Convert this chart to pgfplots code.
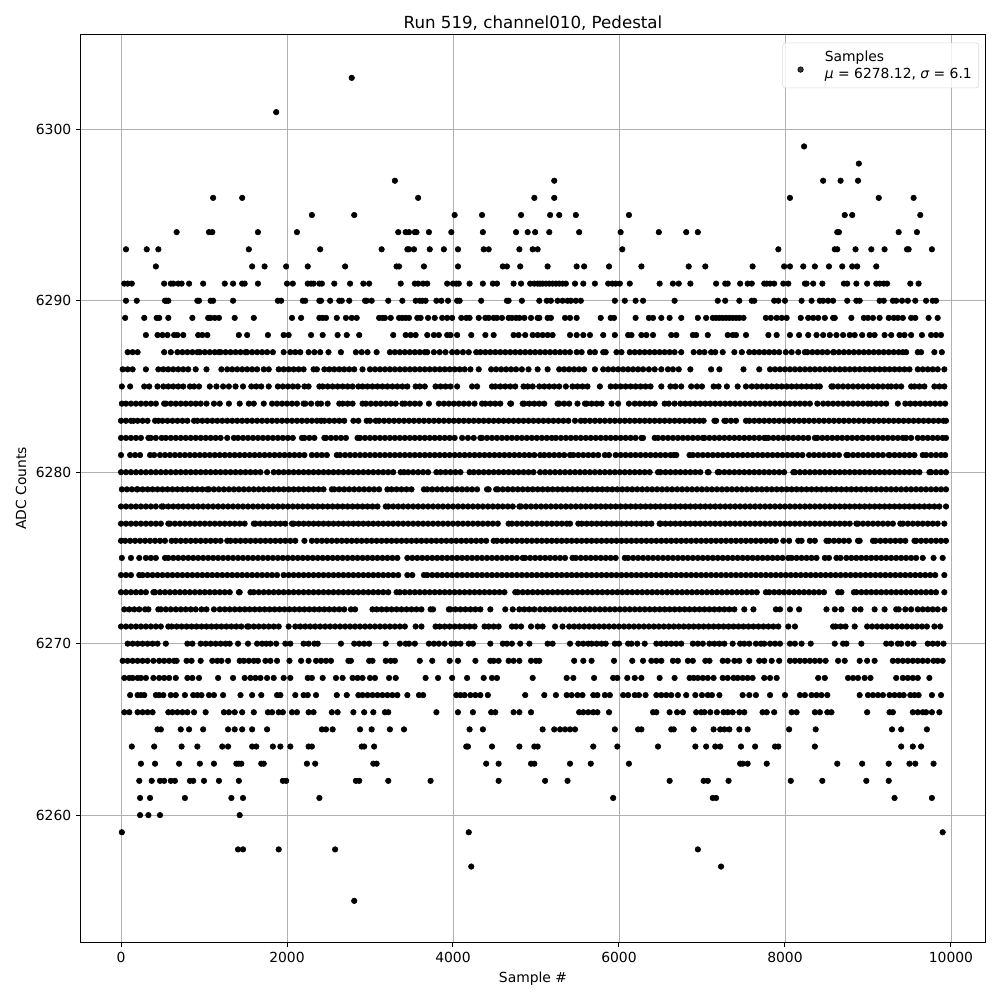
\documentclass[border=0pt]{standalone}
\usepackage{fontspec}
\setmainfont{DejaVu Sans}
\usepackage{pgfplots}
\pgfplotsset{compat=1.18}
\def\lev#1{\addplot[only marks,mark=*,mark size=2pt,mark options={draw=none,fill=black},forget plot] table[row sep=\\,x expr=\thisrowno{0}*10,y expr=#1]}
\begin{document}
\begin{tikzpicture}[x=1pt,y=1pt]
\useasboundingbox (-58.32,-41.76) rectangle (661.68,678.24);
\begin{axis}[at={(0,0)},anchor=south west,scale only axis,width=650.88pt,height=653.04pt,
 xmin=-482,xmax=10410,ymin=6252.6,ymax=6305.5,
 scaled x ticks=false,scaled y ticks=false,
 xtick={0,2000,...,10000},ytick={6260,6270,...,6300},
 /pgf/number format/assume math mode=true,/pgf/number format/1000 sep={},
 grid=major,grid style={color=black!31,line width=0.6pt},
 axis line style={line width=0.72pt},tick style={line width=0.72pt,black},
 major tick length=3.5pt,tick align=outside,xtick pos=bottom,ytick pos=left,
 tick label style={font=\fontsize{10}{12}\selectfont},
 xlabel={Sample \#},ylabel={ADC Counts},
 label style={font=\fontsize{10}{12}\selectfont},
 title={Run 519, channel010, Pedestal},title style={font=\fontsize{12}{14}\selectfont,yshift=-6pt},
 legend style={at={(1,1)},xshift=-4.3pt,yshift=-5.5pt,anchor=north east,draw=black!15,fill=white,fill opacity=0.8,text opacity=1,rounded corners=2pt,inner ysep=3.5pt,font=\fontsize{10}{12.3}\selectfont,nodes={align=left,anchor=west}},legend cell align=left]
\lev{6303}{278\\};
\lev{6301}{187\\};
\lev{6299}{823\\};
\lev{6298}{889\\};
\lev{6297}{330\\522\\846\\867\\888\\};
\lev{6296}{111\\146\\358\\498\\522\\806\\913\\955\\};
\lev{6295}{230\\281\\402\\435\\482\\517\\528\\548\\612\\872\\881\\963\\};
\lev{6294}{67\\106\\110\\165\\212\\334\\343\\347\\354\\356\\371\\398\\436\\476\\490\\499\\516\\552\\602\\648\\681\\695\\863\\865\\937\\959\\};
\lev{6293}{6\\31\\45\\154\\240\\314\\345\\347\\353\\372\\389\\406\\437\\443\\480\\496\\502\\604\\792\\860\\863\\885\\904\\920\\947\\949\\977\\};
\lev{6292}{42\\158\\173\\199\\225\\270\\332\\335\\365\\406\\460\\465\\481\\514\\549\\558\\588\\627\\684\\704\\761\\799\\806\\822\\836\\853\\869\\881\\887\\910\\};
\lev{6291}{4\\8\\13\\52\\60\\63\\69\\73\\82\\99\\125\\135\\146\\149\\165\\200\\207\\225\\229\\232\\239\\242\\257\\276\\292\\299\\337\\354\\358\\364\\369\\393\\400\\404\\407\\420\\436\\448\\453\\473\\482\\493\\498\\502\\505\\508\\512\\516\\520\\524\\528\\532\\536\\547\\557\\571\\587\\592\\596\\601\\613\\649\\665\\672\\686\\717\\728\\731\\746\\755\\760\\775\\778\\782\\787\\798\\804\\824\\826\\834\\845\\871\\875\\886\\899\\910\\914\\919\\923\\951\\961\\};
\lev{6290}{6\\19\\53\\55\\57\\92\\94\\108\\111\\135\\189\\193\\219\\222\\239\\241\\252\\263\\266\\275\\294\\296\\302\\322\\339\\355\\360\\363\\367\\380\\386\\394\\405\\408\\434\\465\\467\\483\\504\\513\\518\\526\\532\\538\\542\\548\\554\\595\\607\\620\\629\\667\\719\\728\\745\\760\\763\\787\\792\\800\\820\\832\\842\\846\\852\\858\\875\\886\\890\\914\\919\\930\\934\\941\\948\\957\\970\\978\\982\\};
\lev{6289}{5\\28\\43\\46\\57\\86\\105\\108\\113\\118\\137\\160\\206\\217\\239\\243\\247\\260\\271\\278\\284\\311\\315\\318\\325\\335\\339\\343\\347\\357\\361\\370\\378\\387\\393\\399\\410\\416\\420\\431\\439\\443\\449\\453\\459\\467\\471\\476\\480\\486\\494\\502\\504\\514\\518\\535\\541\\549\\578\\590\\594\\620\\636\\641\\651\\661\\675\\695\\705\\713\\717\\721\\725\\729\\733\\737\\741\\745\\750\\777\\783\\790\\796\\802\\819\\828\\834\\840\\848\\858\\860\\880\\895\\900\\906\\914\\925\\931\\936\\942\\952\\957\\973\\984\\};
\lev{6288}{30\\44\\50\\56\\64\\68\\75\\93\\98\\104\\142\\152\\177\\196\\202\\229\\243\\261\\272\\287\\328\\343\\349\\355\\369\\377\\383\\393\\397\\405\\422\\439\\449\\473\\479\\487\\496\\502\\508\\514\\520\\541\\549\\557\\565\\581\\595\\611\\615\\627\\633\\641\\663\\669\\689\\693\\707\\731\\737\\741\\753\\780\\790\\806\\817\\828\\838\\846\\854\\862\\870\\878\\884\\893\\902\\908\\920\\928\\938\\944\\952\\965\\976\\982\\988\\};
\lev{6287}{8\\14\\20\\52\\60\\68\\74\\80\\86\\92\\95\\101\\107\\113\\118\\120\\126\\132\\138\\144\\150\\152\\158\\164\\170\\176\\183\\196\\204\\210\\216\\226\\233\\240\\250\\265\\283\\290\\297\\308\\324\\330\\336\\342\\348\\354\\360\\366\\369\\377\\384\\391\\399\\405\\412\\419\\428\\433\\439\\445\\451\\457\\463\\469\\475\\481\\487\\493\\499\\505\\511\\517\\523\\529\\535\\541\\549\\555\\565\\571\\581\\584\\597\\603\\613\\619\\625\\631\\637\\643\\649\\655\\661\\667\\675\\690\\697\\703\\711\\716\\725\\739\\748\\757\\763\\769\\775\\781\\787\\793\\801\\808\\816\\824\\827\\833\\839\\845\\851\\858\\859\\865\\871\\877\\883\\889\\895\\901\\907\\913\\919\\925\\931\\937\\942\\946\\960\\964\\980\\989\\};
\lev{6286}{2\\8\\14\\30\\45\\51\\57\\63\\69\\75\\81\\90\\103\\121\\128\\134\\140\\146\\152\\158\\164\\172\\178\\190\\196\\202\\208\\214\\220\\232\\236\\245\\251\\257\\263\\269\\275\\281\\291\\300\\306\\312\\318\\324\\330\\336\\342\\348\\354\\360\\366\\372\\378\\384\\390\\396\\402\\408\\414\\421\\431\\446\\452\\458\\464\\470\\476\\483\\491\\502\\514\\528\\534\\540\\546\\552\\558\\571\\581\\587\\593\\599\\605\\611\\617\\623\\629\\636\\643\\651\\659\\665\\672\\686\\711\\721\\750\\769\\782\\788\\794\\800\\806\\812\\818\\824\\830\\836\\842\\848\\854\\860\\866\\872\\878\\884\\890\\896\\902\\908\\914\\920\\926\\932\\938\\944\\950\\960\\966\\972\\978\\984\\992\\};
\lev{6285}{1\\11\\28\\34\\44\\51\\57\\63\\69\\75\\83\\88\\94\\107\\115\\123\\130\\138\\147\\157\\163\\169\\178\\189\\195\\201\\207\\213\\221\\226\\239\\243\\249\\255\\261\\267\\273\\279\\286\\291\\297\\303\\309\\315\\321\\327\\333\\339\\345\\355\\360\\366\\379\\385\\391\\397\\405\\423\\429\\447\\451\\457\\463\\469\\475\\485\\490\\496\\504\\510\\516\\522\\528\\536\\544\\550\\556\\562\\577\\590\\596\\602\\608\\614\\620\\626\\632\\638\\651\\662\\668\\675\\687\\694\\700\\714\\720\\730\\743\\753\\760\\766\\772\\778\\784\\790\\796\\802\\808\\814\\820\\826\\832\\838\\842\\856\\858\\864\\870\\876\\882\\888\\894\\900\\906\\912\\918\\924\\928\\934\\940\\952\\956\\962\\968\\980\\986\\992\\};
\lev{6284}{1\\6\\12\\18\\24\\30\\36\\42\\52\\54\\60\\66\\72\\78\\84\\90\\96\\103\\112\\119\\130\\143\\154\\160\\172\\182\\188\\194\\200\\206\\212\\220\\222\\229\\237\\241\\249\\263\\267\\273\\279\\291\\295\\301\\307\\313\\319\\325\\331\\339\\342\\348\\354\\360\\371\\383\\389\\395\\401\\407\\413\\419\\426\\435\\439\\445\\451\\457\\469\\470\\484\\486\\492\\498\\504\\510\\526\\528\\534\\540\\550\\559\\561\\567\\573\\579\\591\\599\\612\\619\\625\\631\\637\\643\\655\\660\\667\\674\\680\\686\\692\\698\\704\\710\\716\\722\\728\\734\\740\\746\\752\\758\\764\\770\\776\\782\\788\\794\\800\\806\\812\\818\\824\\830\\839\\846\\852\\858\\864\\870\\876\\882\\888\\894\\900\\904\\910\\916\\922\\936\\945\\951\\957\\963\\969\\975\\981\\987\\993\\};
\lev{6283}{0\\6\\12\\15\\20\\26\\32\\41\\45\\50\\56\\62\\68\\74\\80\\88\\92\\98\\104\\110\\116\\122\\128\\134\\140\\146\\152\\158\\164\\170\\176\\182\\188\\194\\200\\206\\212\\218\\224\\230\\236\\241\\245\\251\\257\\263\\269\\280\\286\\296\\300\\307\\311\\317\\323\\329\\335\\341\\347\\353\\359\\365\\371\\377\\383\\389\\395\\401\\407\\413\\419\\425\\431\\437\\443\\449\\455\\461\\467\\473\\479\\485\\491\\497\\503\\509\\515\\521\\527\\533\\539\\547\\554\\559\\565\\571\\577\\583\\589\\595\\601\\607\\613\\619\\625\\631\\637\\643\\649\\655\\661\\667\\673\\679\\685\\691\\697\\702\\715\\717\\727\\729\\735\\741\\753\\757\\763\\769\\775\\781\\787\\793\\799\\805\\811\\817\\823\\829\\835\\841\\847\\853\\859\\865\\871\\877\\883\\889\\895\\901\\907\\913\\919\\925\\931\\937\\943\\949\\955\\961\\967\\973\\979\\985\\991\\994\\};
\lev{6282}{0\\6\\12\\18\\24\\33\\36\\42\\49\\54\\60\\66\\72\\78\\84\\90\\96\\102\\108\\114\\120\\128\\136\\141\\147\\153\\159\\165\\171\\177\\183\\189\\195\\201\\207\\218\\221\\227\\233\\245\\247\\253\\259\\265\\271\\285\\288\\294\\300\\306\\312\\318\\324\\330\\336\\342\\348\\354\\360\\366\\372\\378\\384\\390\\396\\402\\411\\418\\425\\433\\435\\441\\447\\453\\459\\465\\471\\477\\483\\489\\495\\501\\507\\513\\519\\524\\530\\536\\542\\548\\554\\560\\566\\572\\578\\584\\590\\596\\602\\608\\614\\620\\627\\629\\643\\647\\653\\659\\665\\671\\677\\683\\689\\695\\701\\703\\709\\715\\721\\727\\733\\739\\745\\751\\757\\763\\769\\775\\777\\780\\786\\792\\798\\804\\810\\816\\822\\828\\836\\839\\845\\851\\857\\863\\869\\875\\881\\887\\893\\894\\900\\906\\912\\918\\924\\930\\936\\942\\946\\952\\960\\966\\972\\978\\984\\990\\994\\};
\lev{6281}{0\\11\\17\\23\\35\\40\\47\\53\\59\\65\\71\\77\\83\\89\\95\\101\\107\\113\\119\\125\\131\\137\\143\\149\\155\\161\\167\\173\\179\\185\\191\\197\\203\\209\\215\\221\\230\\236\\242\\248\\260\\264\\270\\276\\282\\288\\294\\300\\306\\312\\318\\324\\330\\336\\342\\348\\354\\360\\366\\372\\378\\384\\390\\396\\402\\408\\414\\420\\426\\432\\438\\444\\450\\456\\462\\468\\474\\480\\486\\492\\498\\505\\510\\516\\522\\528\\534\\541\\545\\551\\557\\563\\569\\575\\583\\588\\596\\602\\608\\614\\620\\626\\632\\638\\644\\650\\656\\662\\666\\669\\685\\689\\695\\701\\707\\713\\719\\725\\731\\737\\743\\749\\755\\761\\767\\773\\779\\785\\791\\797\\803\\809\\815\\821\\829\\835\\841\\847\\853\\859\\865\\874\\876\\882\\888\\894\\900\\906\\912\\918\\925\\926\\932\\938\\944\\950\\956\\966\\970\\976\\982\\988\\993\\};
\lev{6280}{0\\6\\12\\18\\24\\30\\36\\42\\48\\54\\60\\66\\72\\78\\84\\90\\96\\102\\108\\114\\120\\126\\132\\138\\144\\150\\156\\162\\168\\176\\184\\190\\196\\202\\208\\214\\220\\226\\232\\238\\244\\250\\256\\262\\268\\274\\280\\286\\292\\298\\304\\310\\316\\322\\328\\337\\341\\346\\352\\358\\364\\370\\380\\385\\391\\397\\403\\409\\420\\425\\431\\437\\443\\449\\455\\461\\467\\473\\479\\485\\491\\497\\505\\511\\517\\523\\529\\535\\541\\547\\553\\559\\565\\571\\577\\583\\589\\595\\601\\607\\613\\619\\625\\631\\637\\647\\650\\656\\662\\668\\674\\680\\686\\692\\698\\707\\708\\719\\721\\727\\733\\739\\745\\751\\757\\763\\769\\775\\781\\787\\793\\799\\810\\812\\818\\824\\830\\836\\842\\848\\854\\860\\866\\872\\878\\884\\890\\896\\902\\908\\914\\920\\926\\932\\938\\944\\950\\956\\962\\974\\976\\982\\988\\994\\};
\lev{6279}{1\\7\\13\\19\\20\\26\\32\\38\\44\\50\\56\\62\\68\\74\\80\\86\\92\\98\\104\\106\\112\\118\\124\\130\\136\\142\\148\\154\\160\\166\\172\\178\\184\\190\\196\\202\\208\\214\\220\\226\\232\\238\\244\\254\\257\\263\\269\\275\\281\\287\\293\\299\\305\\311\\321\\326\\332\\338\\344\\350\\365\\369\\375\\381\\387\\393\\399\\405\\411\\417\\423\\429\\441\\443\\452\\454\\460\\466\\472\\478\\484\\490\\496\\502\\508\\514\\520\\526\\532\\538\\544\\550\\556\\562\\568\\574\\580\\586\\592\\598\\604\\610\\616\\622\\628\\634\\640\\646\\652\\658\\664\\670\\676\\682\\688\\694\\700\\706\\712\\718\\724\\730\\736\\742\\748\\754\\760\\766\\772\\778\\784\\790\\796\\802\\808\\814\\820\\826\\832\\838\\844\\850\\856\\862\\868\\874\\880\\886\\892\\898\\904\\910\\916\\922\\928\\934\\940\\946\\952\\958\\964\\970\\976\\982\\988\\994\\};
\lev{6278}{0\\6\\12\\18\\24\\30\\36\\42\\49\\51\\57\\63\\69\\75\\81\\87\\93\\99\\105\\111\\117\\123\\129\\135\\141\\147\\153\\159\\165\\171\\177\\183\\189\\195\\201\\207\\213\\219\\225\\231\\237\\243\\249\\255\\261\\267\\273\\279\\285\\291\\297\\303\\309\\319\\322\\328\\334\\340\\346\\352\\358\\364\\370\\376\\382\\388\\394\\400\\406\\412\\418\\424\\430\\436\\442\\448\\454\\460\\466\\472\\480\\482\\488\\494\\500\\506\\512\\518\\524\\530\\536\\542\\548\\554\\560\\566\\572\\578\\584\\590\\596\\602\\608\\614\\620\\626\\632\\638\\644\\650\\656\\662\\668\\674\\680\\686\\692\\698\\704\\710\\716\\722\\728\\734\\740\\746\\752\\758\\764\\770\\776\\782\\788\\794\\800\\806\\812\\818\\824\\830\\836\\842\\848\\854\\860\\866\\872\\878\\884\\890\\896\\902\\908\\914\\920\\926\\932\\938\\944\\950\\956\\962\\968\\974\\980\\986\\994\\};
\lev{6277}{0\\6\\12\\18\\24\\30\\36\\42\\48\\57\\59\\65\\71\\77\\83\\89\\95\\101\\107\\113\\119\\125\\131\\137\\143\\149\\160\\162\\168\\174\\180\\186\\192\\198\\206\\208\\214\\220\\226\\232\\238\\244\\250\\256\\262\\268\\274\\280\\286\\292\\298\\304\\310\\316\\322\\328\\334\\340\\346\\352\\358\\364\\370\\376\\382\\388\\394\\400\\406\\412\\418\\424\\430\\436\\442\\448\\454\\467\\471\\477\\483\\489\\495\\501\\507\\513\\519\\525\\531\\537\\541\\551\\555\\561\\567\\573\\579\\585\\591\\597\\603\\609\\615\\621\\627\\633\\639\\649\\650\\656\\662\\668\\674\\680\\686\\692\\698\\704\\710\\716\\722\\728\\734\\740\\746\\752\\758\\764\\770\\776\\782\\788\\794\\800\\806\\812\\818\\824\\830\\836\\842\\848\\854\\860\\866\\872\\878\\886\\888\\894\\900\\906\\912\\918\\924\\930\\939\\942\\948\\954\\960\\966\\972\\978\\984\\992\\};
\lev{6276}{0\\5\\11\\17\\23\\29\\35\\41\\47\\53\\61\\66\\72\\78\\84\\90\\96\\102\\108\\114\\120\\128\\132\\138\\144\\150\\156\\162\\168\\174\\180\\186\\192\\198\\204\\210\\221\\230\\236\\242\\248\\254\\260\\266\\272\\278\\284\\290\\296\\302\\308\\314\\320\\326\\332\\338\\344\\350\\356\\362\\368\\374\\380\\386\\392\\398\\404\\410\\416\\422\\428\\434\\440\\449\\453\\459\\465\\471\\477\\483\\489\\495\\501\\507\\513\\519\\525\\531\\537\\543\\549\\555\\561\\567\\573\\579\\585\\591\\597\\603\\609\\615\\621\\627\\633\\639\\645\\651\\657\\663\\669\\675\\681\\687\\693\\699\\705\\711\\717\\723\\729\\735\\741\\747\\753\\759\\765\\771\\777\\783\\789\\798\\805\\816\\820\\830\\836\\850\\853\\859\\865\\871\\877\\888\\890\\906\\909\\915\\921\\927\\933\\939\\945\\956\\958\\964\\970\\976\\982\\988\\994\\};
\lev{6275}{1\\12\\22\\30\\36\\42\\53\\57\\63\\69\\75\\81\\87\\93\\99\\105\\111\\117\\123\\129\\135\\141\\147\\153\\159\\165\\171\\177\\183\\189\\195\\201\\207\\213\\219\\225\\231\\237\\243\\249\\255\\261\\267\\273\\279\\285\\291\\297\\303\\309\\315\\321\\327\\333\\345\\351\\357\\363\\369\\375\\381\\387\\393\\399\\405\\411\\417\\423\\429\\435\\441\\447\\453\\459\\465\\471\\477\\484\\487\\493\\499\\505\\511\\517\\523\\529\\535\\544\\548\\554\\560\\566\\572\\578\\584\\590\\596\\607\\611\\617\\623\\629\\635\\641\\647\\653\\659\\665\\671\\677\\683\\689\\695\\701\\707\\713\\719\\725\\731\\737\\743\\749\\755\\761\\767\\773\\779\\785\\791\\797\\804\\808\\814\\820\\826\\832\\838\\848\\853\\862\\867\\874\\880\\886\\892\\898\\904\\910\\916\\922\\928\\934\\940\\946\\952\\958\\966\\979\\990\\};
\lev{6274}{0\\6\\12\\22\\26\\32\\38\\44\\50\\56\\62\\68\\74\\80\\86\\92\\98\\104\\110\\116\\122\\128\\134\\140\\146\\152\\158\\164\\170\\176\\182\\188\\196\\202\\208\\214\\220\\226\\232\\238\\244\\250\\256\\262\\268\\274\\280\\286\\292\\298\\304\\310\\316\\322\\328\\334\\345\\351\\365\\369\\375\\381\\387\\393\\399\\405\\411\\417\\423\\429\\435\\441\\447\\453\\459\\465\\471\\477\\483\\489\\495\\501\\507\\513\\519\\525\\531\\537\\543\\549\\555\\561\\567\\573\\579\\585\\591\\597\\603\\609\\615\\621\\627\\633\\639\\645\\651\\657\\663\\669\\675\\681\\687\\693\\699\\705\\711\\717\\723\\729\\735\\741\\747\\753\\759\\765\\771\\777\\783\\789\\795\\801\\807\\813\\819\\825\\831\\837\\843\\849\\855\\861\\867\\873\\879\\885\\891\\897\\903\\909\\915\\921\\927\\933\\939\\945\\951\\957\\963\\969\\975\\981\\992\\};
\lev{6273}{0\\6\\12\\18\\24\\30\\39\\41\\47\\53\\59\\65\\71\\77\\83\\89\\95\\101\\107\\113\\119\\125\\131\\142\\143\\156\\160\\166\\172\\178\\184\\190\\196\\202\\208\\214\\220\\226\\232\\238\\244\\250\\256\\262\\268\\274\\280\\286\\292\\298\\304\\310\\316\\322\\332\\336\\342\\348\\354\\360\\366\\372\\378\\384\\390\\396\\402\\408\\414\\420\\426\\432\\438\\444\\450\\456\\462\\475\\478\\484\\490\\496\\502\\508\\514\\520\\526\\532\\538\\544\\550\\556\\562\\568\\574\\580\\586\\592\\598\\604\\610\\616\\622\\628\\634\\640\\646\\652\\658\\664\\670\\676\\682\\688\\694\\700\\706\\712\\718\\724\\730\\736\\742\\748\\754\\760\\766\\777\\781\\787\\793\\799\\805\\811\\817\\823\\829\\835\\841\\847\\864\\868\\883\\886\\892\\898\\904\\910\\916\\922\\928\\934\\940\\946\\952\\958\\964\\970\\976\\982\\992\\};
\lev{6272}{4\\10\\16\\22\\29\\33\\45\\48\\54\\60\\66\\72\\78\\84\\90\\97\\103\\112\\119\\125\\131\\137\\143\\149\\155\\161\\167\\173\\179\\185\\191\\197\\203\\209\\215\\221\\227\\233\\239\\245\\251\\257\\263\\269\\277\\282\\303\\308\\314\\320\\326\\332\\338\\344\\350\\356\\362\\373\\376\\395\\397\\403\\409\\415\\421\\427\\433\\445\\463\\472\\480\\486\\492\\498\\505\\511\\517\\523\\529\\535\\541\\547\\553\\559\\565\\571\\577\\583\\589\\595\\601\\607\\613\\619\\625\\631\\637\\643\\649\\655\\661\\667\\673\\679\\685\\691\\697\\703\\709\\715\\721\\727\\733\\739\\751\\762\\789\\794\\806\\817\\850\\860\\868\\884\\891\\908\\920\\934\\937\\945\\952\\960\\966\\972\\978\\984\\992\\};
\lev{6271}{0\\6\\12\\18\\24\\30\\36\\42\\48\\57\\61\\67\\73\\79\\85\\91\\97\\103\\109\\115\\121\\127\\133\\139\\145\\152\\154\\160\\166\\172\\178\\184\\190\\202\\210\\216\\222\\228\\234\\240\\246\\252\\258\\264\\270\\276\\282\\288\\294\\300\\306\\312\\318\\324\\330\\336\\342\\355\\362\\379\\384\\390\\396\\402\\408\\414\\420\\426\\438\\443\\449\\455\\471\\476\\482\\494\\502\\508\\523\\532\\540\\546\\552\\558\\564\\570\\576\\582\\588\\594\\600\\606\\612\\618\\624\\630\\636\\642\\648\\654\\660\\666\\672\\678\\684\\690\\696\\702\\708\\714\\720\\726\\732\\738\\744\\750\\756\\762\\768\\774\\780\\786\\792\\804\\812\\858\\861\\867\\873\\884\\899\\905\\911\\917\\923\\929\\935\\941\\947\\953\\959\\965\\971\\980\\987\\};
\lev{6270}{8\\14\\20\\26\\32\\38\\44\\54\\80\\86\\96\\102\\108\\114\\120\\126\\131\\141\\153\\164\\170\\175\\180\\187\\198\\204\\220\\226\\233\\237\\265\\281\\287\\293\\299\\319\\336\\343\\347\\354\\371\\377\\383\\390\\398\\403\\409\\419\\424\\445\\460\\465\\471\\481\\492\\514\\520\\541\\551\\557\\563\\567\\573\\579\\584\\595\\600\\611\\615\\622\\631\\645\\651\\657\\663\\669\\675\\689\\695\\701\\709\\715\\721\\727\\737\\746\\751\\757\\765\\771\\775\\782\\788\\794\\806\\812\\820\\831\\860\\870\\874\\892\\922\\928\\936\\940\\948\\955\\972\\978\\984\\991\\};
\lev{6269}{2\\8\\14\\20\\26\\32\\39\\46\\52\\58\\64\\67\\79\\85\\96\\110\\116\\121\\129\\143\\148\\154\\160\\165\\174\\180\\188\\203\\217\\226\\235\\241\\247\\253\\274\\277\\299\\303\\319\\325\\330\\360\\375\\396\\406\\427\\445\\449\\455\\467\\473\\480\\494\\500\\504\\546\\557\\567\\594\\616\\629\\639\\645\\651\\665\\671\\683\\689\\704\\709\\725\\731\\739\\745\\757\\769\\775\\784\\793\\806\\812\\818\\824\\830\\836\\842\\849\\864\\872\\890\\899\\908\\930\\936\\942\\948\\954\\960\\966\\972\\979\\984\\990\\};
\lev{6268}{4\\10\\14\\20\\24\\30\\39\\46\\52\\58\\66\\80\\86\\94\\117\\135\\149\\156\\162\\168\\176\\184\\196\\204\\225\\230\\243\\259\\267\\279\\285\\291\\300\\306\\323\\331\\367\\382\\399\\417\\437\\447\\453\\496\\537\\545\\570\\593\\598\\610\\619\\627\\649\\667\\685\\690\\695\\701\\707\\714\\725\\731\\738\\743\\749\\755\\761\\775\\782\\790\\840\\848\\876\\882\\888\\896\\903\\934\\942\\948\\954\\960\\974\\};
\lev{6267}{11\\20\\24\\28\\42\\46\\51\\60\\66\\77\\87\\92\\97\\106\\112\\123\\144\\158\\169\\188\\192\\210\\220\\225\\235\\260\\272\\286\\291\\297\\303\\309\\315\\321\\327\\333\\345\\359\\364\\404\\409\\414\\421\\427\\433\\442\\487\\510\\524\\537\\543\\550\\556\\569\\574\\583\\589\\605\\611\\619\\624\\632\\645\\651\\657\\663\\671\\681\\692\\700\\707\\712\\721\\749\\757\\765\\782\\800\\818\\824\\832\\838\\844\\851\\890\\900\\906\\912\\918\\926\\932\\938\\943\\951\\956\\961\\977\\988\\};
\lev{6266}{4\\10\\20\\26\\32\\38\\57\\62\\68\\74\\80\\88\\102\\124\\130\\137\\146\\160\\177\\182\\190\\195\\206\\212\\226\\232\\254\\261\\280\\293\\304\\318\\322\\380\\406\\424\\446\\451\\473\\480\\494\\552\\557\\563\\569\\574\\588\\641\\645\\661\\670\\677\\693\\699\\703\\710\\718\\726\\731\\737\\745\\751\\773\\778\\787\\808\\814\\836\\842\\851\\856\\899\\926\\930\\954\\960\\966\\970\\977\\986\\};
\lev{6265}{44\\48\\72\\82\\99\\129\\137\\146\\158\\176\\242\\247\\255\\288\\302\\324\\341\\420\\436\\508\\522\\529\\535\\541\\547\\595\\623\\627\\663\\666\\690\\714\\722\\727\\733\\745\\755\\805\\837\\929\\940\\971\\};
\lev{6264}{13\\40\\73\\92\\122\\129\\158\\163\\183\\192\\204\\226\\230\\290\\293\\305\\416\\418\\447\\480\\498\\502\\569\\598\\647\\692\\705\\716\\722\\747\\764\\788\\792\\836\\940\\954\\964\\};
\lev{6263}{24\\41\\70\\95\\112\\139\\142\\145\\169\\172\\224\\234\\304\\308\\440\\455\\494\\498\\541\\566\\612\\746\\749\\755\\778\\863\\893\\925\\950\\957\\979\\};
\lev{6262}{22\\37\\47\\52\\60\\65\\83\\87\\100\\118\\142\\195\\199\\283\\287\\322\\373\\455\\511\\538\\661\\702\\707\\732\\807\\845\\898\\925\\};
\lev{6261}{23\\35\\77\\133\\147\\239\\593\\713\\717\\932\\977\\};
\lev{6260}{23\\33\\47\\143\\};
\lev{6259}{1\\419\\990\\};
\lev{6258}{141\\147\\190\\258\\695\\};
\lev{6257}{422\\723\\};
\lev{6255}{281\\};
\addlegendimage{legend image code/.code={\path (-3pt,0pt) (22pt,0pt);\fill[black] (6.7pt,-3pt) circle (2pt);}}
\addlegendentry{Samples\\{\itshape μ} = 6278.12, {\itshape σ} = 6.1}
\end{axis}
\end{tikzpicture}
\end{document}
